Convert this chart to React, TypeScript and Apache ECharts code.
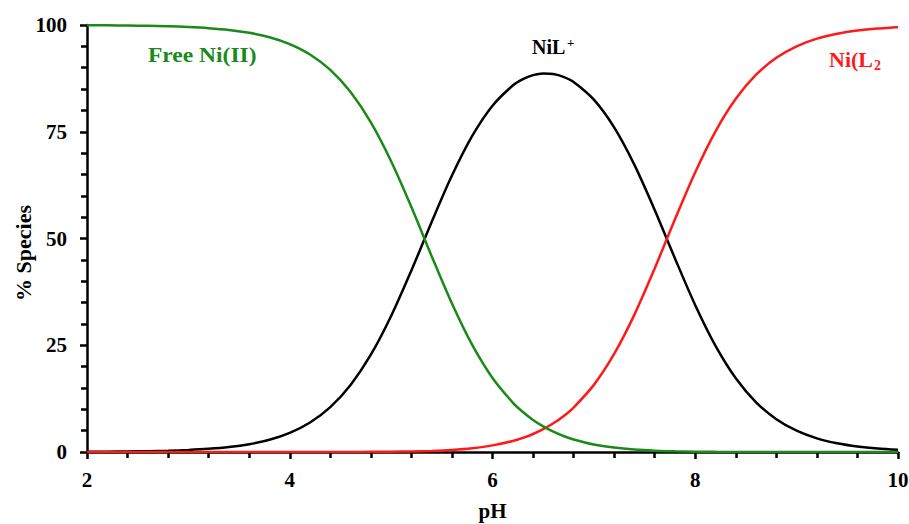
import React, { useEffect, useRef } from "react";
import * as echarts from "echarts";

const phValues = [
  2.0, 2.2, 2.4, 2.6, 2.8, 3.0, 3.2, 3.4, 3.6, 3.8, 4.0, 4.2, 4.4, 4.6, 4.8,
  5.0, 5.2, 5.4, 5.6, 5.8, 6.0, 6.2, 6.3, 6.4, 6.5, 6.6, 6.7, 6.8, 7.0, 7.2,
  7.4, 7.6, 7.8, 8.0, 8.2, 8.4, 8.6, 8.8, 9.0, 9.2, 9.4, 9.6, 9.8, 10.0,
];
const freeNi = [
  99.95, 99.93, 99.88, 99.81, 99.71, 99.53, 99.26, 98.84, 98.17, 97.14, 95.53,
  93.1, 89.49, 84.29, 77.19, 68.09, 57.36, 45.86, 34.77, 25.08, 17.34, 11.58,
  9.36, 7.51, 6.0, 4.75, 3.75, 2.94, 1.76, 1.03, 0.57, 0.3, 0.15, 0.07, 0.03,
  0.01, 0, 0, 0, 0, 0, 0, 0, 0,
];
const niL = [
  0.05, 0.07, 0.12, 0.19, 0.29, 0.47, 0.74, 1.16, 1.83, 2.86, 4.47, 6.9, 10.51,
  15.7, 22.78, 31.85, 42.52, 53.88, 64.74, 74.03, 81.11, 85.83, 87.32, 88.26,
  88.67, 88.53, 87.86, 86.65, 82.51, 76.02, 67.24, 56.69, 45.34, 34.39, 24.87,
  17.28, 11.65, 7.68, 4.99, 3.2, 2.05, 1.3, 0.82, 0.52,
];
const niL2 = [
  0, 0, 0, 0, 0, 0, 0, 0, 0, 0, 0, 0, 0.01, 0.01, 0.03, 0.06, 0.13, 0.26, 0.49,
  0.89, 1.55, 2.59, 3.32, 4.22, 5.34, 6.72, 8.39, 10.42, 15.72, 22.96, 32.18,
  43.0, 54.51, 65.53, 75.1, 82.71, 88.35, 92.32, 95.01, 96.8, 97.95, 98.7,
  99.18, 99.48,
];
const xTicks = [2, 4, 6, 8, 10];
const yTicks = [0, 25, 50, 75, 100];

const FONT = "'Liberation Serif', 'DejaVu Serif', serif";
const GREEN = "#1a8a1a";
const RED = "#ff1a1a";

export default function App() {
  const ref = useRef<HTMLDivElement>(null);
  useEffect(() => {
    document.body.style.margin = "0";
    if (!ref.current) return;
    const chart = echarts.init(ref.current, undefined, { renderer: "svg" });
    const pair = (arr: number[]) => phValues.map((p, i) => [p, arr[i]]);
    const axisCommon = {
      axisLine: { show: true, lineStyle: { color: "#000", width: 2.5 } },
      axisTick: { show: true, inside: false, length: 7, lineStyle: { color: "#000", width: 2.5 } },
      minorTick: { show: true, splitNumber: 5, length: 6, lineStyle: { color: "#000", width: 2.5 } },
      splitLine: { show: false },
      axisLabel: { color: "#000", fontFamily: FONT, fontWeight: "bold", fontSize: 21 },
      nameTextStyle: { color: "#000", fontFamily: FONT, fontWeight: "bold", fontSize: 21 },
    };
    chart.setOption({
      animation: false,
      backgroundColor: "#fff",
      grid: { left: 87, right: 11, top: 25, bottom: 72, outerBoundsMode: "none", containLabel: false },
      xAxis: {
        type: "value",
        min: xTicks[0],
        max: xTicks[xTicks.length - 1],
        interval: 2,
        name: "pH",
        nameLocation: "middle",
        nameGap: 48,
        ...axisCommon,
        axisLabel: { ...axisCommon.axisLabel, margin: 17 },
      },
      yAxis: {
        type: "value",
        min: yTicks[0],
        max: yTicks[yTicks.length - 1],
        interval: 25,
        ...axisCommon,
        axisLabel: { ...axisCommon.axisLabel, margin: 20 },
      },
      series: [
        {
          type: "line",
          name: "Free Ni(II)",
          data: pair(freeNi),
          smooth: 0.3,
          showSymbol: false,
          lineStyle: { color: GREEN, width: 2.5 },
          z: 3,
        },
        {
          type: "line",
          name: "NiL+",
          data: pair(niL),
          smooth: 0.3,
          showSymbol: false,
          lineStyle: { color: "#000", width: 2.5 },
          z: 2,
        },
        {
          type: "line",
          name: "Ni(L2",
          data: pair(niL2),
          smooth: 0.3,
          showSymbol: false,
          lineStyle: { color: RED, width: 2.5 },
          z: 2,
        },
      ],
      graphic: [
        {
          type: "text",
          x: 23,
          y: 253,
          rotation: Math.PI / 2,
          style: {
            text: "% Species",
            fill: "#000",
            font: `bold 22px ${FONT}`,
            align: "center",
            verticalAlign: "middle",
          },
        },
        {
          type: "text",
          x: 148,
          y: 44,
          scaleX: 1.12,
          style: { text: "Free Ni(II)", fill: GREEN, font: `bold 21px ${FONT}` },
        },
        {
          type: "text",
          x: 532,
          y: 37,
          style: { text: "NiL", fill: "#000", font: `bold 20px ${FONT}` },
        },
        {
          type: "text",
          x: 567,
          y: 36,
          style: { text: "+", fill: "#000", font: `bold 13px ${FONT}` },
        },
        {
          type: "text",
          x: 829,
          y: 48,
          style: { text: "Ni(L", fill: RED, font: `bold 22px ${FONT}` },
        },
        {
          type: "text",
          x: 874,
          y: 58,
          style: { text: "2", fill: RED, font: `bold 14px ${FONT}` },
        },
      ],
    });
    return () => chart.dispose();
  }, []);
  return (
    <div
      ref={ref}
      style={{ position: "fixed", left: 0, top: 0, width: 909, height: 524 }}
    />
  );
}
